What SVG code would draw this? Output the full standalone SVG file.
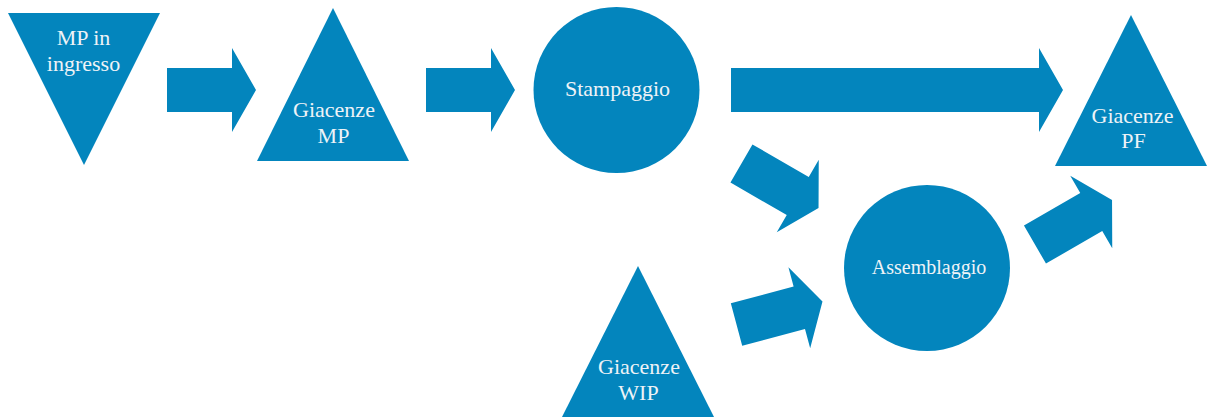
<svg xmlns="http://www.w3.org/2000/svg" width="1208" height="418" viewBox="0 0 1208 418">
<style>
.s{fill:#0385BD}
.t{fill:#EEF3F7;font-family:"Liberation Serif",serif;font-size:22px;text-anchor:middle}
</style>
<defs>
<path id="arr" class="s" d="M-44.5,-22 H20.5 V-42 L44.5,0 L20.5,42 V22 H-44.5 Z"/>
</defs>
<rect width="1208" height="418" fill="#fff"/>
<g id="connectors">
<use href="#arr" transform="translate(211.5,90)"/>
<use href="#arr" transform="translate(470.5,90)"/>
<path class="s" d="M731,68 H1039 V48 L1063,90 L1039,132 V112 H731 Z"/>
<use href="#arr" transform="translate(780,185.75) rotate(30)"/>
<use href="#arr" transform="translate(779.5,313) rotate(-15)"/>
<use href="#arr" transform="translate(1073.5,222.25) rotate(-30)"/>
</g>
<g id="mp-in">
<polygon class="s" points="8,13 160,13 84,165"/>
<text class="t" x="83.5" y="45">MP in</text>
<text class="t" x="83.5" y="71">ingresso</text>
</g>
<g id="giacenze-mp">
<polygon class="s" points="333,8 409,161 257,161"/>
<text class="t" x="334" y="117">Giacenze</text>
<text class="t" x="333.5" y="143">MP</text>
</g>
<g id="stampaggio">
<circle class="s" cx="616.5" cy="90" r="83"/>
<text class="t" x="617.5" y="96">Stampaggio</text>
</g>
<g id="giacenze-pf">
<polygon class="s" points="1131,15 1207,166 1055,166"/>
<text class="t" x="1132.5" y="123">Giacenze</text>
<text class="t" x="1133.5" y="148">PF</text>
</g>
<g id="assemblaggio">
<circle class="s" cx="927" cy="268" r="83"/>
<text class="t" x="929" y="274" style="font-size:20px">Assemblaggio</text>
</g>
<g id="giacenze-wip">
<polygon class="s" points="638,266 714,417 562,417"/>
<text class="t" x="639" y="374">Giacenze</text>
<text class="t" x="638.5" y="400">WIP</text>
</g>
</svg>
